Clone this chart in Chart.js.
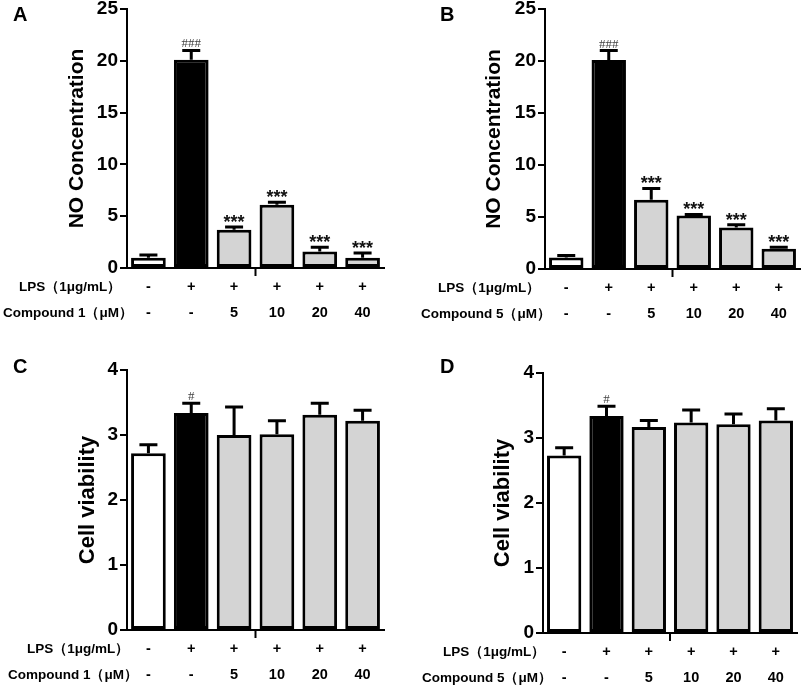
<!DOCTYPE html>
<html>
<head>
<meta charset="utf-8">
<script src="https://cdn.jsdelivr.net/npm/chart.js@4.4.0/dist/chart.umd.min.js"></script>
<style>
  html, body { margin: 0; padding: 0; background: #fff; overflow: hidden; }
  #wrap { position: relative; width: 803px; height: 688px; }
  canvas { position: absolute; }
</style>
</head>
<body>
<div id="wrap">
  <canvas id="chartA" width="400" height="360" style="left:0;top:-20px"></canvas>
  <canvas id="chartB" width="403" height="360" style="left:400px;top:-20px"></canvas>
  <canvas id="chartC" width="400" height="348" style="left:0;top:340px"></canvas>
  <canvas id="chartD" width="403" height="348" style="left:400px;top:340px"></canvas>
</div>
<script>
// groups along the x axis
var groups = ['Control', 'LPS', 'LPS + 5', 'LPS + 10', 'LPS + 20', 'LPS + 40'];
var lpsRow = ['-', '+', '+', '+', '+', '+'];
var doseRow = ['-', '-', '5', '10', '20', '40'];

// NO concentration, compound 1 (A) and compound 5 (B): mean and SD
var noMean1 = [1.0, 20.1, 3.7, 6.1, 1.6, 1.0];
var noErr1  = [0.25, 0.9, 0.25, 0.25, 0.4, 0.45];
var noMean5 = [1.1, 20.1, 6.65, 5.15, 4.0, 1.95];
var noErr5  = [0.2, 0.9, 1.1, 0.1, 0.25, 0.15];

// cell viability, compound 1 (C) and compound 5 (D)
var cvMean1 = [2.72, 3.34, 3.0, 3.01, 3.31, 3.22];
var cvErr1  = [0.13, 0.15, 0.43, 0.21, 0.18, 0.16];
var cvMean5 = [2.73, 3.34, 3.17, 3.24, 3.21, 3.27];
var cvErr5  = [0.12, 0.15, 0.1, 0.19, 0.16, 0.18];

// significance marks
var noMarks = ['', '###', '***', '***', '***', '***'];
var cvMarks = ['', '#', '', '', '', ''];

var FONT = '"Liberation Sans", Arial, sans-serif';
Chart.defaults.font.family = FONT;
Chart.defaults.color = '#000';

// error bars, marks, panel letter and the two rows under the axis
function makeDecor(p) {
  return {
    id: 'decor',
    afterDatasetsDraw: function(chart) {
      var ctx = chart.ctx, y = chart.scales.y;
      var bars = chart.getDatasetMeta(0).data;
      var vals = chart.data.datasets[0].data;
      ctx.save();
      ctx.strokeStyle = '#000';
      ctx.lineWidth = 3;
      bars.forEach(function(bar, i) {
        var top = y.getPixelForValue(vals[i] + p.err[i]);
        var base = y.getPixelForValue(vals[i]);
        ctx.beginPath();
        ctx.moveTo(bar.x, base);
        ctx.lineTo(bar.x, top);
        ctx.moveTo(bar.x - 9, top);
        ctx.lineTo(bar.x + 9, top);
        ctx.stroke();
        var m = p.marks[i];
        if (!m) return;
        ctx.textAlign = 'center';
        ctx.textBaseline = 'alphabetic';
        if (m.charAt(0) === '#') {
          ctx.font = '13px "Liberation Serif", serif';
          ctx.fillStyle = '#444';
          ctx.fillText(m, bar.x, top - 3);
        } else {
          ctx.font = 'bold 18px ' + FONT;
          ctx.fillStyle = '#111';
          ctx.fillText(m, bar.x, top + 1);
        }
      });
      ctx.restore();
    },
    afterDraw: function(chart) {
      var ctx = chart.ctx, x = chart.scales.x, area = chart.chartArea;
      ctx.save();
      // letter
      ctx.font = 'bold 20px ' + FONT;
      ctx.fillStyle = '#000';
      ctx.textAlign = 'left';
      ctx.textBaseline = 'alphabetic';
      ctx.fillText(p.letter, p.letterX, p.letterY);
      // little tick under the axis
      var mid = (x.getPixelForValue(2) + x.getPixelForValue(3)) / 2;
      ctx.strokeStyle = '#000';
      ctx.lineWidth = 2;
      ctx.beginPath();
      ctx.moveTo(mid, area.bottom);
      ctx.lineTo(mid, area.bottom + 8);
      ctx.stroke();
      // rows
      ctx.textBaseline = 'middle';
      var r1 = area.bottom + 19, r2 = area.bottom + 45;
      ctx.font = 'bold 13.5px ' + FONT;
      ctx.textAlign = 'left';
      ctx.fillText('LPS（1μg/mL）', p.lpsLeft, r1);
      ctx.fillText(p.compound + '（μM）', p.compLeft, r2);
      ctx.font = 'bold 14.5px ' + FONT;
      ctx.textAlign = 'center';
      for (var i = 0; i < groups.length; i++) {
        var cx = x.getPixelForValue(i);
        ctx.fillText(lpsRow[i], cx, r1);
        ctx.fillText(doseRow[i], cx, r2);
      }
      ctx.restore();
    }
  };
}

function makeChart(id, p) {
  return new Chart(document.getElementById(id), {
    type: 'bar',
    data: {
      labels: groups,
      datasets: [{
        data: p.mean,
        backgroundColor: ['#ffffff', '#000000', '#d4d4d4', '#d4d4d4', '#d4d4d4', '#d4d4d4'],
        borderColor: '#000',
        borderWidth: 3,
        borderSkipped: false,
        barPercentage: 0.81,
        categoryPercentage: 1
      }]
    },
    options: {
      responsive: false,
      animation: false,
      layout: { padding: p.pad },
      plugins: { legend: { display: false }, tooltip: { enabled: false } },
      scales: {
        x: {
          grid: { display: false },
          border: { display: true, color: '#000', width: 2 },
          ticks: { display: false },
          afterFit: function(s) { s.height = p.xHeight; }
        },
        y: {
          min: 0,
          max: p.max,
          ticks: { stepSize: p.step, padding: 2, font: { size: 19, weight: 'bold' }, color: '#000' },
          grid: { drawOnChartArea: false, drawTicks: true, tickLength: 7, color: '#000', lineWidth: 2 },
          border: { display: true, color: '#000', width: 2 },
          title: { display: true, text: p.title, font: { size: p.titleSize, weight: 'bold' }, color: '#000', padding: { top: 10, bottom: 0 } },
          afterFit: function(s) { s.width = p.yWidth; }
        }
      }
    },
    plugins: [makeDecor(p)]
  });
}

makeChart('chartA', {
  mean: noMean1, err: noErr1, marks: noMarks, max: 25, step: 5,
  title: 'NO Concentration', titleSize: 21, compound: 'Compound 1',
  pad: { left: 55, top: 29, right: 16, bottom: 0 }, yWidth: 72, xHeight: 72,
  letter: 'A', letterX: 13, letterY: 41, lpsLeft: 19, compLeft: 3
});
makeChart('chartB', {
  mean: noMean5, err: noErr5, marks: noMarks, max: 25, step: 5,
  title: 'NO Concentration', titleSize: 21, compound: 'Compound 5',
  pad: { left: 72, top: 29, right: 3, bottom: 0 }, yWidth: 73, xHeight: 71,
  letter: 'B', letterX: 40, letterY: 41, lpsLeft: 38, compLeft: 21
});
makeChart('chartC', {
  mean: cvMean1, err: cvErr1, marks: cvMarks, max: 4, step: 1,
  title: 'Cell viability', titleSize: 22, compound: 'Compound 1',
  pad: { left: 65, top: 30, right: 16, bottom: 0 }, yWidth: 62, xHeight: 58,
  letter: 'C', letterX: 13, letterY: 33, lpsLeft: 27, compLeft: 8
});
makeChart('chartD', {
  mean: cvMean5, err: cvErr5, marks: cvMarks, max: 4, step: 1,
  title: 'Cell viability', titleSize: 22, compound: 'Compound 5',
  pad: { left: 80, top: 33, right: 6, bottom: 0 }, yWidth: 63, xHeight: 55,
  letter: 'D', letterX: 40, letterY: 33, lpsLeft: 43, compLeft: 22
});
</script>
</body>
</html>
